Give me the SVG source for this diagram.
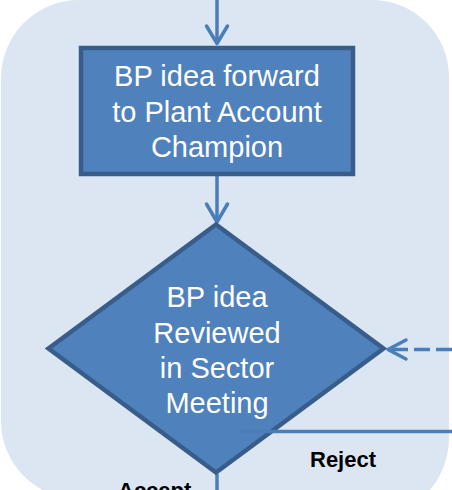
<svg xmlns="http://www.w3.org/2000/svg" width="452" height="490" viewBox="0 0 452 490">
<defs>
<style>
.bg{fill:#DCE6F2;}
.shape{fill:#4F81BD;stroke:#385D8A;stroke-width:4.5;stroke-linejoin:miter;}
.t{font-family:"Liberation Sans",Arial,sans-serif;font-size:29px;fill:#FFFFFF;text-anchor:middle;}
.lbl{font-family:"Liberation Sans",Arial,sans-serif;font-size:22px;font-weight:bold;fill:#000000;}
.c{fill:none;stroke:#4A7EBB;stroke-width:3.5;stroke-linecap:round;stroke-linejoin:round;}
.cl{fill:none;stroke:#4A7EBB;stroke-width:3.5;}
</style>
</defs>
<path class="bg" d="M1,78 A78,78 0 0 1 79,0 H372 A77,77 0 0 1 449,77 V438 A80,80 0 0 1 369,518 L79,499 A78,78 0 0 1 1,421 Z"/>
<g id="connectors">
<line class="cl" x1="217" y1="0" x2="217" y2="43"/>
<polyline class="c" points="206.5,26 217,43.5 227.5,26"/>
<line class="cl" x1="217" y1="176" x2="217" y2="221"/>
<polyline class="c" points="206.5,204 217,222 227.5,204"/>
<line class="cl" x1="217" y1="474" x2="217" y2="490"/>
<line class="cl" x1="452" y1="349.5" x2="389" y2="349.5" stroke-dasharray="16 6"/>
<polyline class="c" points="406,340 388,349.5 406,359"/>
</g>
<g id="node-forward">
<rect class="shape" x="81" y="48" width="272" height="126"/>
<text class="t" x="217" y="86">BP idea forward</text>
<text class="t" x="217" y="121.5">to Plant Account</text>
<text class="t" x="217" y="157">Champion</text>
</g>
<g id="node-review">
<polygon class="shape" points="216,224.5 383.5,348.5 216,472.5 48.5,348.5"/>
<text class="t" x="217" y="307">BP idea</text>
<text class="t" x="217" y="342.5">Reviewed</text>
<text class="t" x="217" y="378">in Sector</text>
<text class="t" x="217" y="413">Meeting</text>
</g>
<g id="reject-line">
<line class="cl" x1="241" y1="431.5" x2="452" y2="431.5"/>
</g>
<text class="lbl" x="310" y="467">Reject</text>
<text class="lbl" x="118" y="498">Accept</text>
</svg>
